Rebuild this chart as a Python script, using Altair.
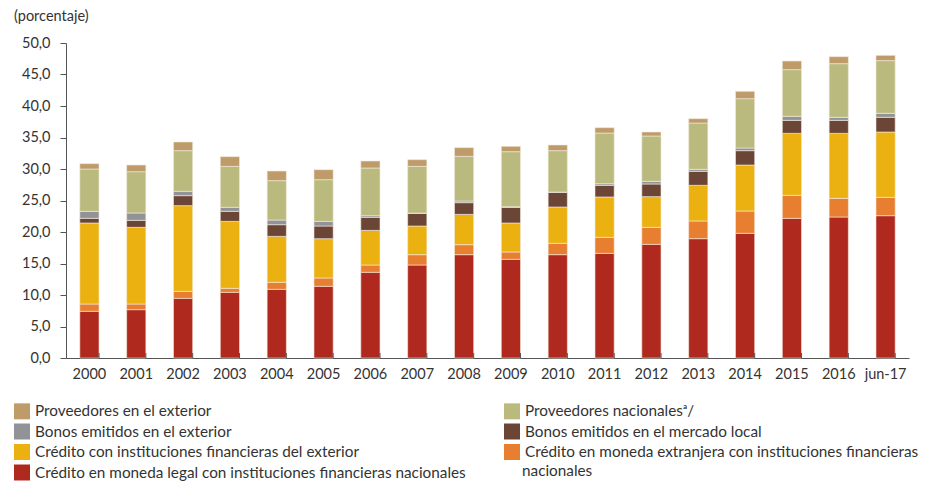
import altair as alt
import pandas as pd

years = ["2000", "2001", "2002", "2003", "2004", "2005", "2006", "2007", "2008",
         "2009", "2010", "2011", "2012", "2013", "2014", "2015", "2016", "jun-17"]

credito_ml_nac = [7.41, 7.67, 9.47, 10.42, 10.90, 11.38, 13.60, 14.76, 16.40,
                  15.66, 16.40, 16.61, 18.04, 18.94, 19.79, 22.17, 22.38, 22.59]
credito_me_nac = [1.16, 0.90, 1.11, 0.64, 1.11, 1.32, 1.16, 1.64, 1.59,
                  1.17, 1.80, 2.54, 2.70, 2.81, 3.54, 3.65, 2.96, 2.91]
credito_ext = [12.86, 12.17, 13.60, 10.63, 7.30, 6.24, 5.50, 4.55, 4.81,
               4.60, 5.77, 6.41, 4.87, 5.66, 7.30, 9.84, 10.32, 10.37]
bonos_local = [0.74, 1.11, 1.59, 1.59, 1.85, 2.01, 2.07, 2.01, 1.86,
               2.49, 2.33, 1.85, 2.01, 2.22, 2.28, 2.06, 2.06, 2.33]
bonos_ext = [1.11, 1.17, 0.69, 0.64, 0.74, 0.74, 0.26, 0.05, 0.26,
             0.08, 0.05, 0.26, 0.42, 0.32, 0.42, 0.64, 0.48, 0.64]
prov_nac = [6.72, 6.56, 6.45, 6.50, 6.25, 6.62, 7.57, 7.41, 7.09,
            8.75, 6.56, 8.04, 7.20, 7.35, 7.83, 7.41, 8.52, 8.36]
prov_ext = [0.85, 1.05, 1.38, 1.54, 1.53, 1.58, 1.11, 1.06, 1.38,
            0.85, 0.90, 0.85, 0.63, 0.69, 1.17, 1.37, 1.11, 0.84]

names = [
    "Crédito en moneda legal con instituciones financieras nacionales",
    "Crédito en moneda extranjera con instituciones financieras nacionales",
    "Crédito con instituciones financieras del exterior",
    "Bonos emitidos en el mercado local",
    "Bonos emitidos en el exterior",
    "Proveedores nacionalesᵃ/",
    "Proveedores en el exterior",
]
colors = ["#B0291E", "#E87E30", "#EAB111", "#6B4536", "#929397", "#BABA7F", "#BE9B69"]
series = [credito_ml_nac, credito_me_nac, credito_ext, bonos_local, bonos_ext, prov_nac, prov_ext]

rows = []
for k, (name, vals) in enumerate(zip(names, series)):
    for y, v in zip(years, vals):
        rows.append({"year": y, "serie": name, "valor": v, "orden": k})
df = pd.DataFrame(rows)

# legend fills column by column: left column then right column
legend_idx = [6, 4, 2, 0, 5, 3, 1]
legend_order = [names[i] for i in legend_idx]
legend_colors = [colors[i] for i in legend_idx]

FONT = "Lato"
TXT = "#333333"
LFS = 15.3

long_label = names[1]
first_line = "Crédito en moneda extranjera con instituciones financieras"
second_line = "nacionales"

xscale = alt.Scale(domain=years, paddingInner=0.59, paddingOuter=0.295)

bars = alt.Chart(df).mark_bar(stroke="#F4EBDD", strokeWidth=0.6).encode(
    x=alt.X("year:N", scale=xscale, sort=years, title=None,
            axis=alt.Axis(labelAngle=0, ticks=False, labelPadding=9,
                          labelFontSize=14.5, labelFont=FONT, labelColor=TXT,
                          domainColor="#555555", domainWidth=1)),
    y=alt.Y("sum(valor):Q", stack="zero", title=None,
            scale=alt.Scale(domain=[0, 50], nice=False),
            axis=alt.Axis(values=[0, 5, 10, 15, 20, 25, 30, 35, 40, 45, 50],
                          labelExpr="replace(format(datum.value, '.1f'), '.', ',')",
                          grid=False, tickSize=6, labelPadding=10,
                          labelFontSize=14.5, labelFont=FONT, labelColor=TXT,
                          tickColor="#555555", domainColor="#555555")),
    color=alt.Color("serie:N",
                    scale=alt.Scale(domain=legend_order, range=legend_colors),
                    legend=alt.Legend(
                        title=None, orient="none", legendX=-52, legendY=360,
                        columns=2, columnPadding=38, rowPadding=3.5,
                        symbolType="square", symbolSize=256, symbolStrokeWidth=0,
                        labelFontSize=LFS, labelFont=FONT, labelColor=TXT,
                        labelOffset=5, labelLimit=600, padding=0,
                        labelExpr=f"datum.label == '{long_label}' ? '{first_line}' : datum.label")),
    order=alt.Order("orden:Q", sort="ascending"),
)

ticks_df = pd.DataFrame({"year": years})
xticks = alt.Chart(ticks_df).mark_rule(color="#555555", strokeWidth=1).encode(
    x=alt.X("year:N", scale=xscale, sort=years, bandPosition=1),
    y=alt.value(315),
    y2=alt.value(310),
)

# continuation line of the wrapped legend label
wrap_df = pd.DataFrame({"texto": [second_line]})
wrap_text = alt.Chart(wrap_df).mark_text(
    align="left", baseline="middle", font=FONT, fontSize=LFS, color=TXT
).encode(text="texto:N", x=alt.value(456), y=alt.value(428))

chart = alt.layer(bars, xticks, wrap_text).properties(
    width=843, height=315,
    title=alt.TitleParams("(porcentaje)", anchor="start", frame="bounds",
                          fontSize=14.5, font=FONT, fontWeight="normal",
                          color=TXT, offset=11),
    autosize=alt.AutoSizeParams(type="none"),
    padding={"left": 58, "top": 35, "right": 10, "bottom": 125},
).configure_view(stroke=None)

chart.save("out.html", embed_options={"renderer": "svg", "actions": False})
